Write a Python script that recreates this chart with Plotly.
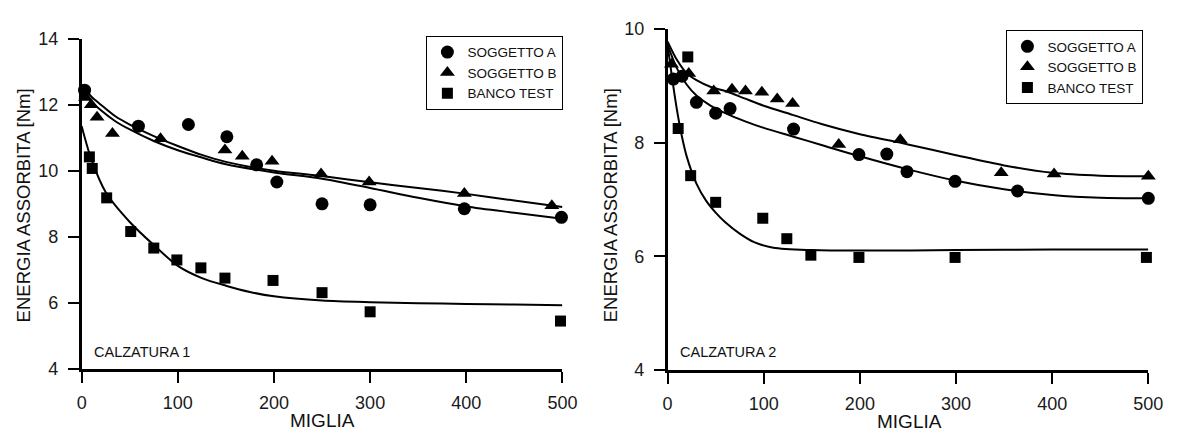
import plotly.graph_objects as go

W, H = 1182, 441
FONT = "Liberation Sans, Arial, sans-serif"

# ---------------- CALZATURA 1 (left) ----------------
c1_miles_A = [3, 59, 111, 151, 182, 203, 250, 300, 398, 499]
c1_A = [12.44, 11.35, 11.40, 11.03, 10.18, 9.66, 9.00, 8.97, 8.85, 8.59]
c1_miles_B = [4, 10, 16, 32, 82, 149, 167, 198, 249, 299, 398, 489]
c1_B = [12.22, 12.00, 11.62, 11.13, 10.97, 10.63, 10.44, 10.29, 9.90, 9.66, 9.31, 8.94]
c1_miles_T = [8, 11, 26, 51, 75, 99, 124, 149, 199, 250, 300, 498]
c1_T = [10.42, 10.07, 9.18, 8.16, 7.66, 7.30, 7.06, 6.75, 6.68, 6.31, 5.73, 5.45]

c1_fit_miles = [0, 10, 20, 35, 50, 75, 100, 125, 150, 200, 250, 300, 350, 400, 450, 500]
c1_fit_B = [12.60, 12.25, 12.00, 11.65, 11.40, 11.05, 10.75, 10.48, 10.27, 10.00, 9.84, 9.65, 9.48, 9.30, 9.10, 8.90]
c1_fit_A = [12.50, 12.10, 11.83, 11.50, 11.25, 10.90, 10.62, 10.40, 10.20, 9.95, 9.76, 9.48, 9.18, 8.92, 8.73, 8.55]
c1_fitT_miles = [0, 10, 25, 50, 75, 100, 125, 150, 175, 200, 250, 300, 350, 400, 450, 500]
c1_fit_T = [11.35, 10.35, 9.35, 8.45, 7.75, 7.12, 6.75, 6.52, 6.33, 6.20, 6.07, 6.02, 5.99, 5.97, 5.95, 5.93]

# ---------------- CALZATURA 2 (right) ----------------
c2_miles_A = [6, 15, 30, 50, 65, 131, 199, 228, 249, 299, 364, 500]
c2_A = [9.12, 9.17, 8.71, 8.52, 8.60, 8.24, 7.79, 7.80, 7.49, 7.32, 7.15, 7.02]
c2_miles_B = [4, 22, 48, 67, 81, 98, 114, 130, 178, 242, 347, 402, 500]
c2_B = [9.38, 9.22, 8.91, 8.94, 8.91, 8.89, 8.77, 8.69, 7.97, 8.05, 7.47, 7.45, 7.41]
c2_miles_T = [11, 21, 24, 50, 99, 124, 149, 199, 299, 498]
c2_T = [8.25, 9.51, 7.42, 6.95, 6.67, 6.31, 6.02, 5.98, 5.98, 5.98]

c2_fit_miles = [0, 10, 20, 30, 45, 60, 80, 100, 130, 160, 200, 250, 300, 350, 400, 450, 500]
c2_fit_B = [9.78, 9.45, 9.22, 9.10, 8.98, 8.91, 8.78, 8.65, 8.49, 8.33, 8.15, 7.97, 7.78, 7.60, 7.47, 7.42, 7.41]
c2_fit_A = [9.72, 9.30, 9.02, 8.83, 8.65, 8.52, 8.38, 8.26, 8.11, 7.96, 7.76, 7.53, 7.33, 7.18, 7.08, 7.03, 7.02]
c2_fitT_miles = [0, 5, 10, 15, 20, 30, 40, 50, 60, 75, 90, 110, 150, 200, 300, 400, 500]
c2_fit_T = [9.72, 9.10, 8.55, 8.10, 7.75, 7.28, 6.98, 6.77, 6.60, 6.40, 6.25, 6.15, 6.11, 6.10, 6.11, 6.12, 6.12]

x_ticks = [0, 100, 200, 300, 400, 500]
y1_ticks = [4, 6, 8, 10, 12, 14]
y2_ticks = [4, 6, 8, 10]
series_names = ["SOGGETTO A", "SOGGETTO B", "BANCO TEST"]
panel_labels = ["CALZATURA 1", "CALZATURA 2"]
x_title = "MIGLIA"
y_title = "ENERGIA ASSORBITA [Nm]"

symbols = ["circle", "triangle-up", "square"]
sizes = [13, 13, 11]

fig = go.Figure()

panels = [
    ("x", "y", "legend", [(c1_miles_A, c1_A), (c1_miles_B, c1_B), (c1_miles_T, c1_T)],
     [(c1_fit_miles, c1_fit_B), (c1_fit_miles, c1_fit_A), (c1_fitT_miles, c1_fit_T)]),
    ("x2", "y2", "legend2", [(c2_miles_A, c2_A), (c2_miles_B, c2_B), (c2_miles_T, c2_T)],
     [(c2_fit_miles, c2_fit_B), (c2_fit_miles, c2_fit_A), (c2_fitT_miles, c2_fit_T)]),
]

for xa, ya, lg, pts, fits in panels:
    for fx, fy in fits:
        fig.add_trace(go.Scatter(x=fx, y=fy, mode="lines", xaxis=xa, yaxis=ya,
                                 line=dict(color="black", width=2, shape="spline", smoothing=0.8),
                                 showlegend=False, hoverinfo="skip"))
    for (px, py), name, sym, sz in zip(pts, series_names, symbols, sizes):
        fig.add_trace(go.Scatter(x=px, y=py, mode="markers", xaxis=xa, yaxis=ya, name=name,
                                 marker=dict(symbol=sym, size=sz, color="black"),
                                 cliponaxis=False, legend=lg))

axis_common = dict(showline=True, linecolor="black", linewidth=2.5, ticks="outside",
                   ticklen=11, tickwidth=2, tickcolor="black", showgrid=False, zeroline=False,
                   tickfont=dict(family=FONT, size=18, color="#1a1a1a"), fixedrange=True)

fig.update_layout(
    width=W, height=H, margin=dict(l=0, r=0, t=0, b=0),
    paper_bgcolor="white", plot_bgcolor="white",
    font=dict(family=FONT, color="black"),
    xaxis=dict(domain=[78 / W, 567 / W], range=[0, 500], tickvals=x_ticks, anchor="y",
               ticklabelstandoff=5, **axis_common),
    yaxis=dict(domain=[(H - 376) / H, (H - 30) / H], range=[4, 14], tickvals=y1_ticks, anchor="x",
               ticklabelstandoff=6, **axis_common),
    xaxis2=dict(domain=[674 / W, 1163 / W], range=[0, 500], tickvals=x_ticks, anchor="y2",
                ticklabelstandoff=5, **axis_common),
    yaxis2=dict(domain=[(H - 377) / H, (H - 20) / H], range=[4, 10], tickvals=y2_ticks, anchor="x2",
                ticklabelstandoff=6, **axis_common),
    legend=dict(x=568 / W, y=1 - 27 / H, xanchor="right", yanchor="top", xref="paper", yref="paper",
                bordercolor="black", borderwidth=1, bgcolor="white", tracegroupgap=0,
                itemwidth=30, font=dict(family=FONT, size=13.5, color="#111")),
    legend2=dict(x=1158 / W, y=1 - 21 / H, xanchor="right", yanchor="top", xref="paper", yref="paper",
                 bordercolor="black", borderwidth=1, bgcolor="white", tracegroupgap=0,
                 itemwidth=30, font=dict(family=FONT, size=13.5, color="#111")),
    showlegend=True,
)

annotations = [
    dict(text=panel_labels[0], x=89 / W, y=1 - 358 / H, xanchor="left", yanchor="middle"),
    dict(text=panel_labels[1], x=685 / W, y=1 - 358 / H, xanchor="left", yanchor="middle"),
]
for a in annotations:
    fig.add_annotation(xref="paper", yref="paper", showarrow=False,
                       font=dict(family=FONT, size=14.5, color="#111"), **a)

for cx, cy in [(323, 430), (920, 431)]:
    fig.add_annotation(xref="paper", yref="paper", x=cx / W, y=1 - cy / H, text=x_title,
                       showarrow=False, xanchor="center", yanchor="middle",
                       font=dict(family=FONT, size=19, color="#111"))
for cx, cy in [(19, 205), (616, 205)]:
    fig.add_annotation(xref="paper", yref="paper", x=cx / W, y=1 - cy / H, text=y_title,
                       showarrow=False, xanchor="center", yanchor="middle", textangle=-90,
                       font=dict(family=FONT, size=18.5, color="#111"))

fig.write_html("out.html")
